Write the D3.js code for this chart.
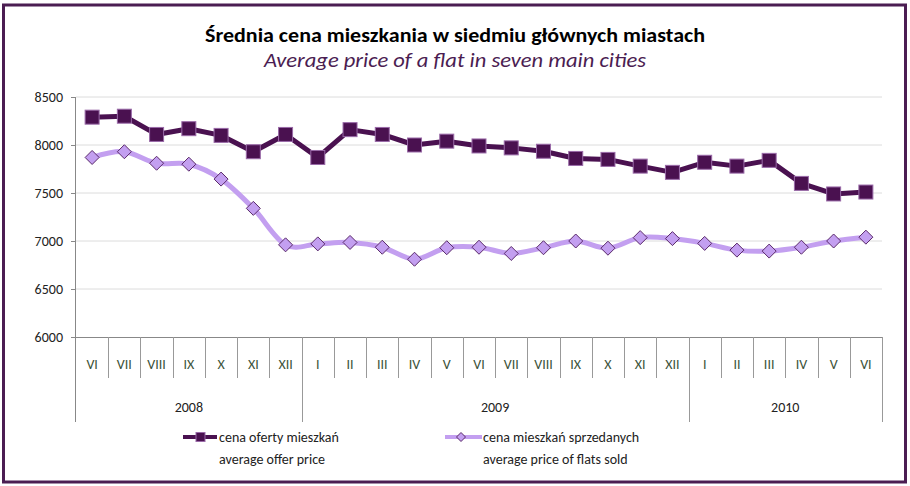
<!DOCTYPE html>
<html><head><meta charset="utf-8">
<script src="https://cdn.jsdelivr.net/npm/d3@7"></script>
<style>body{margin:0;background:#fff}svg{display:block}</style>
</head><body>
<svg id="c" width="910" height="486"></svg>
<script>
const months = ["VI","VII","VIII","IX","X","XI","XII","I","II","III","IV","V","VI","VII","VIII","IX","X","XI","XII","I","II","III","IV","V","VI"];
const years = [{label:"2008", start:0, end:7},{label:"2009", start:7, end:19},{label:"2010", start:19, end:25}];
const offerPrice = [8290,8300,8110,8170,8100,7930,8110,7870,8160,8110,8000,8040,7990,7970,7935,7860,7850,7780,7715,7820,7780,7840,7600,7490,7510];
const soldPrice = [7870,7930,7810,7800,7645,7340,6960,6970,6985,6935,6810,6930,6935,6870,6930,7000,6925,7035,7025,6975,6905,6895,6935,7000,7040];
const yTicks = [6000,6500,7000,7500,8000,8500];
const title = "Średnia cena mieszkania w siedmiu głównych miastach";
const subtitle = "Average price of a flat in seven main cities";
const legendOffer = ["cena oferty mieszkań","average offer price"];
const legendSold = ["cena mieszkań sprzedanych","average price of flats sold"];

const dark = "#4a1150", light = "#c39ff0";
const svg = d3.select("#c");
const font = "Carlito, Lato, 'Open Sans', 'Noto Sans', sans-serif";

svg.append("rect").attr("x",3.5).attr("y",5).attr("width",902).attr("height",477)
  .attr("fill","#fff").attr("stroke","#4b1d52").attr("stroke-width",3);

svg.append("text").attr("x",455).attr("y",42).attr("text-anchor","middle")
  .attr("font-family",font).attr("font-weight","600").attr("font-size",20).attr("fill","#000")
  .attr("textLength",500).attr("lengthAdjust","spacingAndGlyphs").text(title);
svg.append("text").attr("x",455).attr("y",67).attr("text-anchor","middle")
  .attr("font-family",font).attr("font-style","italic").attr("font-size",20).attr("fill","#4b1d52")
  .attr("textLength",382).attr("lengthAdjust","spacingAndGlyphs").text(subtitle);

const L = 76, R = 882, T = 97, B = 337;
const x = d3.scaleBand().domain(d3.range(months.length)).range([L,R]);
const y = d3.scaleLinear().domain([6000,8500]).range([B,T]);

// gridlines
svg.append("g").selectAll("line").data(yTicks.filter(t=>t>6000)).join("line")
  .attr("x1",L).attr("x2",R).attr("y1",d=>y(d)).attr("y2",d=>y(d))
  .attr("stroke","#dcdcdc").attr("stroke-width",1);

// y axis
const ya = svg.append("g").attr("transform",`translate(${L},0)`)
  .call(d3.axisLeft(y).tickValues(yTicks).tickSize(5).tickFormat(d3.format("d")));
ya.select(".domain").remove();
ya.selectAll(".tick line").attr("stroke","#888");
ya.selectAll(".tick text").attr("font-family",font).attr("font-size",14).attr("fill","#222").attr("x",-13).attr("dy","0.35em");
svg.append("line").attr("x1",L-0.5).attr("x2",L-0.5).attr("y1",T).attr("y2",422).attr("stroke","#888");

// x axis baseline
svg.append("line").attr("x1",L).attr("x2",R).attr("y1",B+0.5).attr("y2",B+0.5).attr("stroke","#888");
// month dividers
const bounds = d3.range(1, months.length+1);
svg.append("g").selectAll("line").data(bounds).join("line")
  .attr("x1",i=>Math.round(L + i*x.step())+0.5).attr("x2",i=>Math.round(L + i*x.step())+0.5)
  .attr("y1",B).attr("y2",i=> years.some(yy=>yy.end===i) ? 422 : 378)
  .attr("stroke","#999");
svg.append("g").selectAll("text").data(months).join("text")
  .attr("x",(d,i)=>x(i)+x.bandwidth()/2).attr("y",369).attr("text-anchor","middle")
  .attr("font-family",font).attr("font-size",14).attr("fill","#3b5238").text(d=>d);
svg.append("g").selectAll("text").data(years).join("text")
  .attr("x",d=>L + (d.start+d.end)/2*x.step()).attr("y",412).attr("text-anchor","middle")
  .attr("font-family",font).attr("font-size",14).attr("fill","#222").text(d=>d.label);

const cx = i => x(i)+x.bandwidth()/2;
// sold line
svg.append("path").datum(soldPrice)
  .attr("d", d3.line().x((d,i)=>cx(i)).y(d=>y(d)).curve(d3.curveCatmullRom.alpha(0)))
  .attr("fill","none").attr("stroke",light).attr("stroke-width",5).attr("stroke-linejoin","round");
// offer line
svg.append("path").datum(offerPrice)
  .attr("d", d3.line().x((d,i)=>cx(i)).y(d=>y(d)))
  .attr("fill","none").attr("stroke",dark).attr("stroke-width",5).attr("stroke-linejoin","round");

const diamond = (px,py,s) => `M${px},${py-s}L${px+s},${py}L${px},${py+s}L${px-s},${py}Z`;
svg.append("g").selectAll("path").data(soldPrice).join("path")
  .attr("d",(d,i)=>diamond(cx(i),y(d),7))
  .attr("fill",light).attr("stroke","#5a2a6a").attr("stroke-width",1);
svg.append("g").selectAll("rect").data(offerPrice).join("rect")
  .attr("x",(d,i)=>cx(i)-7).attr("y",d=>y(d)-7).attr("width",14).attr("height",14)
  .attr("fill",dark).attr("stroke","#9a6aa8").attr("stroke-width",1);

// legend
const lg = svg.append("g");
lg.append("line").attr("x1",183).attr("x2",217).attr("y1",437).attr("y2",437).attr("stroke",dark).attr("stroke-width",4);
lg.append("rect").attr("x",196).attr("y",432.5).attr("width",9).attr("height",9).attr("fill",dark).attr("stroke","#9a6aa8");
lg.selectAll("text.o").data(legendOffer).join("text").attr("class","o")
  .attr("x",219).attr("y",(d,i)=>442+i*22).attr("font-family",font).attr("font-size",14).attr("fill","#222").text(d=>d);
lg.append("line").attr("x1",445).attr("x2",482).attr("y1",437).attr("y2",437).attr("stroke",light).attr("stroke-width",4);
lg.append("path").attr("d",diamond(461,437,4.5)).attr("fill",light).attr("stroke","#5a2a6a");
lg.selectAll("text.s").data(legendSold).join("text").attr("class","s")
  .attr("x",483).attr("y",(d,i)=>442+i*22).attr("font-family",font).attr("font-size",14).attr("fill","#222").text(d=>d);
</script>
</body></html>
